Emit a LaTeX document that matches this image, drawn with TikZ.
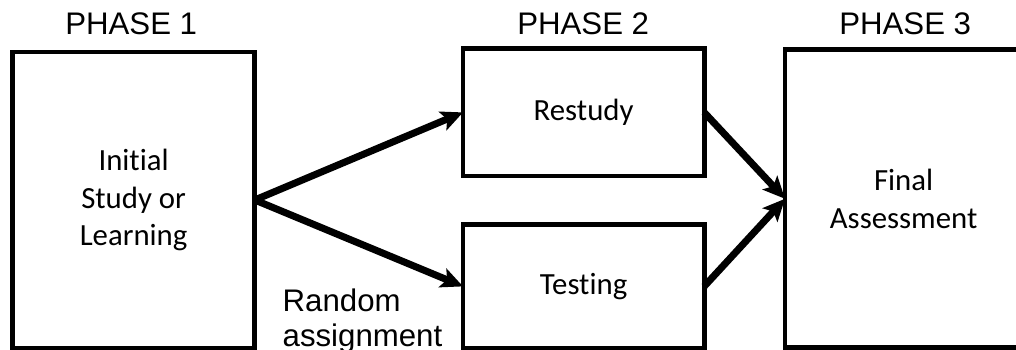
\documentclass[tikz,border=0pt]{standalone}
\usepackage{fontspec}
\setmainfont{Liberation Sans}
\newfontfamily\boxfont[Ligatures=NoCommon]{Carlito}
\usetikzlibrary{arrows.meta, positioning}

\begin{document}
\begin{tikzpicture}[
    stage/.style={rectangle, draw, line width=3.5pt, outer sep=0pt, inner sep=0pt, align=center,
        font=\boxfont\fontsize{21.9pt}{26.6pt}\selectfont},
    phase/.style={inner sep=0pt, font=\fontsize{22.2pt}{26pt}\selectfont},
    flow/.style={-{Stealth[length=0.55cm, width=0.5cm, inset=0.12cm]}, line width=5pt}
]
    \useasboundingbox (0,0) rectangle (25.4,8.75);

    % Phase 1
    \node[stage, minimum width=6.06cm, minimum height=7.4cm] (initial) at (3.34,3.75) {Initial\\Study or\\Learning};
    \node[phase, anchor=base] (phase1) at (3.28,7.88) {PHASE 1};

    % Phase 2
    \node[stage, minimum width=6.03cm, minimum height=3.18cm] (restudy) at (14.59,5.94) {Restudy};
    \node[stage, minimum width=6.03cm, minimum height=3.08cm] (testing) at (14.59,1.59) {Testing};
    \node[phase, anchor=base] (phase2) at (14.58,7.88) {PHASE 2};

    % Phase 3
    \node[stage, minimum width=5.93cm, minimum height=7.45cm] (final) at (22.59,3.78) {Final\\Assessment};
    \node[phase, anchor=base] (phase3) at (22.63,7.88) {PHASE 3};

    % random assignment
    \node[phase, align=left, anchor=north west, font=\fontsize{22.2pt}{25.2pt}\selectfont] (assign) at (7.06,1.54) {Random\\assignment};

    % arrows
    \draw[flow] (initial.east) -- (restudy.west);
    \draw[flow] (initial.east) -- (testing.west);
    \draw[flow] (restudy.east) -- (final.west);
    \draw[flow] (testing.east) -- (final.west);

\end{tikzpicture}
\end{document}
